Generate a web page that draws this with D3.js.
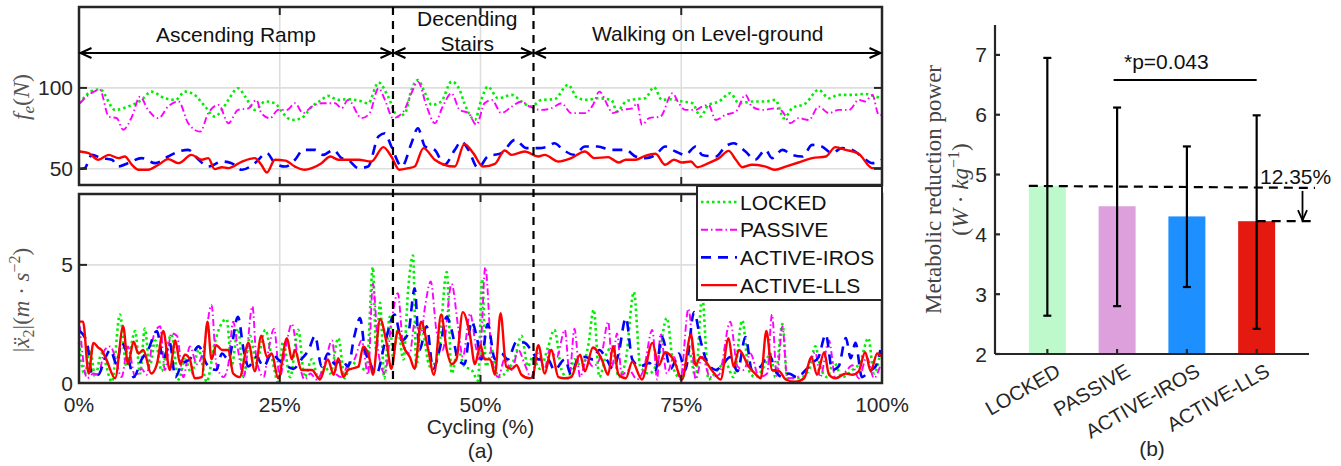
<!DOCTYPE html>
<html>
<head>
<meta charset="utf-8">
<script src="https://cdn.jsdelivr.net/npm/d3@7"></script>
<style>
  body { margin: 0; background: #fff; }
  svg { display: block; font-family: "Liberation Sans", Arial, sans-serif; }
</style>
</head>
<body>
<div id="chart"></div>
<script>
// ---- data (x in % of cycle) ----
var seriesNames = ["LOCKED", "PASSIVE", "ACTIVE-IROS", "ACTIVE-LLS"];
var phaseNames = ["Ascending Ramp", "Decending|Stairs", "Walking on Level-ground"];
var phaseBounds = [0, 39.1, 56.6, 100];
var xTicks = [0, 25, 50, 75, 100];
var forceTicks = [50, 100];
var accTicks = [0, 5];

var lockedForce = [[0,90.5],[2.0,98.8],[2.6,99],[4.5,86.4],[6.1,88.5],[7.8,92.6],[9.0,97.7],[10.7,93.6],[12.0,92.6],[13.2,97.7],[14.4,95.7],[15.7,88.5],[16.9,82.3],[17.8,86.4],[18.6,92.6],[19.8,99.8],[20.7,94.6],[21.9,86.4],[23.2,91.6],[24.4,90.5],[25.4,84.4],[26.5,80.2],[27.7,81.3],[29.0,88.5],[30.2,92.6],[31.0,95.1],[32.3,92.6],[33.5,93],
  [34.8,92.2],[36.0,90.5],[37.3,103.3],[38.5,94.6],[39.7,82.3],[40.6,84.4],[41.4,98.8],[42.2,104.9],[43.1,96.7],[43.9,89.5],[45.1,91.6],[46.4,103.9],[47.4,98.8],[48.0,90.5],[49.3,80.2],[50.1,92.6],[50.9,100.8],[52.2,93.6],[53.9,95.7],[55.1,91.6],[56.3,88.5],[57.6,92.6],[59.2,93],[60.9,101.9],[62.1,93.6],[63.4,92.6],[64.6,93.6],[66.3,92.6],
  [67.0,85.4],[68.1,91.6],[69.3,93],[70.5,93.6],[71.6,100.4],[72.6,92.6],[73.9,93],[75.1,91.6],[76.4,90.5],[77.4,82.3],[78.4,89.5],[79.7,91.6],[81.1,96.7],[82.2,90.5],[83.8,91.6],[85.5,91.6],[86.7,92.6],[87.8,81.3],[88.8,87.4],[90.5,90.5],[92.1,98.8],[93.4,93.6],[94.6,95.7],[96.3,95.7],[97.9,96.3],[99.2,94.6],[100,93.6]];

var passiveForce = [[0.1,90.5],[1.2,95.7],[2.6,98.8],[3.7,82.3],[4.7,81.3],[5.5,74.1],[6.6,82.3],[7.6,94.6],[8.6,86.4],[9.9,81.3],[11.1,88.5],[12.4,91.6],[13.6,78.2],[15.1,73],[16.1,84.4],[17.4,89.5],[18.6,78.2],[19.8,86.4],[21.1,87.4],[22.1,92.6],[22.7,84.4],[23.8,81.3],[24.8,86.4],[25.9,86.4],[26.9,90.5],[27.9,84.4],[29.0,88.5],[30.2,90.5],[31.9,90.5],[32.7,87.4],[33.5,92.6],
  [35.2,81.3],[36.2,84.4],[37.3,99.8],[38.1,92.6],[39.1,81.3],[40.4,85.4],[41.4,96.7],[42.2,103.9],[43.3,88.5],[44.3,78.2],[45.3,88.5],[46.4,96.7],[47.4,86.4],[48.5,84.4],[49.5,77.2],[50.5,90.5],[51.4,92.6],[52.6,84.4],[53.9,88.5],[55.1,91.6],[56.1,88.5],[57.6,86.4],[58.8,87.4],[60.1,90.5],[61.3,84.4],[63.0,84.4],[64.0,89.5],[64.8,97.7],[65.9,88.5],
  [66.4,84.4],[67.6,86.4],[68.9,87.4],[69.5,90.5],[70.1,77.2],[71.0,81.3],[72.4,82.3],[73.9,96.7],[74.7,90.5],[75.5,86.4],[76.8,86.4],[77.6,88.5],[78.4,89.5],[79.3,80.2],[80.5,83.3],[81.8,85.4],[83.0,95.7],[83.8,88.5],[85.1,86.4],[86.7,87.4],[87.6,85.4],[88.6,78.2],[89.6,81.3],[90.9,80.2],[92.1,88.5],[93.4,84.4],[94.6,86.4],[95.9,86.4],[97.1,92.6],[97.9,91.6],[98.8,95.7],[99.6,83.3],[100,83.3]];

var irosForce = [[0.1,50],[0.7,50.4],[1.6,58.6],[2.8,56.6],[4.1,55.6],[4.9,51.4],[6.1,53.5],[7.8,56.6],[9.5,53.5],[11.1,57.6],[12.4,60.7],[13.6,61.7],[14.9,55.6],[16.1,51.4],[17.8,54.5],[19.0,53.5],[20.3,49.4],[21.9,53.5],[23.4,59.7],[24.4,53.5],[25.7,51.4],[26.9,55.6],[27.9,61.7],[29.4,61.7],[30.4,58.6],[31.7,61.7],[32.7,56.6],[33.5,55.6],
  [34.8,50.4],[36.0,51.4],[37.3,70],[38.1,72],[38.9,63.8],[40.2,51.4],[41.4,65.8],[42.2,75.1],[43.1,63.8],[44.3,61.7],[45.5,52.5],[46.8,61.7],[47.6,66.9],[48.5,61.7],[49.7,50.4],[50.9,57.6],[52.6,59.7],[54.3,67.9],[55.7,62.8],[57.2,62.8],[58.4,63.8],[59.2,65.8],[60.3,61.7],[61.7,58.6],[63.0,63.8],[64.6,63.8],[66.3,61.7],
  [68.1,61.7],[69.3,57.6],[70.5,56.6],[71.8,58.6],[73.0,63.8],[74.3,60.7],[75.5,58.6],[76.8,63.8],[77.6,58.6],[79.3,57.6],[80.5,63.8],[81.5,65.8],[83.0,60.7],[84.2,55.6],[85.5,61.7],[86.3,56.6],[87.6,61.7],[88.8,58.6],[90.1,57.6],[91.3,64.8],[92.5,63.8],[93.8,59.7],[95.0,62.8],[96.3,61.7],[97.5,57.6],[98.8,53.5],[100,55.6]];

var llsForce = [[0.1,60.7],[1.2,59.7],[2.4,55.6],[3.7,58.6],[4.9,56.6],[5.7,57.6],[6.6,52.5],[7.4,49.4],[8.6,49.4],[9.9,52.5],[11.1,56],[12.4,53.5],[14.0,58.6],[15.3,55.6],[16.1,56.6],[16.9,49.8],[17.8,51],[18.6,50.4],[20.3,54.5],[21.9,56.6],[22.7,52.5],[23.4,47.7],[24.4,55.6],[25.7,55.1],[26.9,51.4],[28.1,49.4],[29.0,50.4],[30.2,53.5],[31.3,57.6],[32.3,55.6],[33.5,55.6],
  [34.8,55.6],[36.4,54.5],[37.9,63.4],[38.9,57.6],[39.9,49.4],[41.0,50.4],[41.8,51.4],[42.9,62.8],[44.3,55.6],[45.5,52.5],[46.8,51.4],[48.0,65.4],[49.1,59.7],[50.3,51.4],[51.8,53.1],[53.0,61.3],[53.9,58.6],[55.5,60.7],[57.2,57.6],[58.0,58.6],[59.7,54.5],[61.3,56.6],[63.0,60.7],[64.2,56.6],[65.9,57.2],
  [66.4,56],[67.2,53.9],[68.1,55.6],[69.3,55.6],[70.5,58],[71.8,59.3],[73.0,52.5],[74.1,55.6],[75.1,53.9],[76.2,54.5],[77.0,51],[78.4,53.5],[79.7,56.6],[80.9,61.1],[81.8,55.6],[82.6,51],[83.8,52.5],[85.5,51.4],[86.7,49.4],[88.0,51.4],[89.6,53.9],[91.3,56.6],[93.0,57.6],[94.2,63.4],[95.5,61.7],[97.1,59.3],[98.8,50.4],[100,50.4]];

var lockedAcc = [[0,1.7],[0.7,0.35],[1.4,1.4],[2.0,0.25],[2.8,1.25],[4.1,0.05],[5.1,2.9],[5.9,0.7],[7.0,2.2],[7.6,0.4],[8.2,2.3],[8.8,0.7],[9.5,1.8],[10.3,0.5],[10.9,1.4],[11.5,2.05],[12.4,0.15],[13.2,1.0],[14.0,0.4],[14.9,1.4],[15.9,0.05],[16.9,1.7],[17.8,2.55],[18.4,2.7],[19.0,0.7],[19.8,2.3],[20.5,0.25],[21.3,2.0],[22.1,0.85],[23.2,2.25],[24.0,1.1],[24.8,0.05],[25.4,1.75],[26.3,0.25],[27.3,2.25],[28.1,0.25],[29.0,1.0],[29.8,0.2],[30.6,0.7],[31.3,0.4],[32.3,1.9],[33.1,0.2],
  [33.9,0.9],[34.8,0.7],[35.8,0.55],[36.6,4.9],[37.0,1.4],[37.5,3.4],[38.0,0.2],[38.7,2.8],[39.1,1.1],[39.7,2.25],[40.4,1.0],[41.0,4.0],[41.6,5.4],[42.0,0.7],[42.6,2.4],[43.7,0.7],[44.7,1.1],[45.8,4.7],[46.4,0.4],[47.2,1.4],[48.0,0.7],[48.9,0.55],[49.7,0.1],[50.2,4.4],[50.7,0.7],[51.4,1.4],[52.2,0.25],[53.4,0.55],[54.3,1.1],[55.1,2.0],[55.9,0.7],[56.5,1.1],[57.4,0.6],[58.4,1.5],[59.2,2.25],[60.1,0.55],[60.9,0.2],[61.7,1.0],[62.6,0.7],[63.4,1.55],[64.1,3.1],[64.8,0.25],[65.7,1.25],[66.5,1.55],
  [67.2,0.25],[68.1,1.0],[69.1,3.85],[69.9,0.7],[71.0,0.4],[72.2,1.1],[73.2,2.75],[74.1,0.55],[75.1,0.15],[75.9,1.4],[76.8,0.25],[77.6,3.65],[78.4,0.15],[79.5,0.55],[80.5,0.85],[81.5,0.25],[82.6,2.65],[83.4,0.55],[84.2,0.25],[85.3,0.7],[86.1,1.25],[86.7,0.25],[87.6,2.5],[88.2,0.2],[89.6,0.2],[90.9,0.55],[91.7,1.55],[92.3,0.7],[93.2,0.25],[94.0,0.9],[95.0,0.25],[96.3,0.55],[97.3,0.9],[98.3,1.9],[99.0,0.4],[99.8,1.3]];

var passiveAcc = [[0.1,2.4],[1.0,0.2],[1.8,0.4],[2.4,0.35],[3.2,1.4],[3.9,1.55],[4.5,1.1],[5.3,0.25],[6.1,1.55],[7.0,0.25],[7.8,0.6],[8.4,0.35],[9.3,2.0],[10.1,2.4],[10.7,0.55],[11.5,2.1],[12.2,2.0],[13.0,0.25],[13.8,1.55],[14.7,0.8],[15.5,1.4],[16.5,3.3],[17.1,0.8],[18.0,0.25],[18.6,0.8],[19.2,2.6],[19.8,1.4],[20.5,0.25],[21.6,3.25],[22.1,1.0],[23.0,0.25],[23.6,1.4],[24.3,2.3],[25.0,0.25],[25.7,1.4],[26.5,2.5],[27.3,1.0],[28.1,0.15],[28.8,0.4],[29.6,0.15],[30.6,0.8],[31.5,1.8],[32.1,0.35],[32.7,0.25],[33.5,0.8],
  [34.3,1.0],[35.2,1.8],[36.0,0.35],[36.6,4.2],[37.3,1.25],[38.1,0.4],[38.9,2.55],[39.7,3.8],[40.4,1.55],[41.2,1.25],[41.8,2.55],[42.6,2.1],[43.1,3.25],[43.8,4.3],[44.5,2.25],[45.3,1.4],[46.4,4.2],[47.2,2.4],[47.8,1.1],[48.7,2.95],[49.5,1.4],[49.9,1.0],[50.6,4.9],[51.4,1.1],[52.2,0.25],[53.0,1.0],[53.9,0.55],[54.7,1.4],[55.5,0.8],[56.3,0.25],[57.2,1.25],[58.0,0.6],[58.6,1.4],[59.5,1.1],[60.5,2.25],[61.1,0.4],[61.7,2.3],[62.4,0.25],[63.2,1.0],[64.0,0.7],[65.1,1.25],[65.9,2.6],
  [66.4,0.7],[67.0,2.1],[67.6,0.35],[68.5,0.55],[69.5,0.15],[70.3,0.55],[71.4,2.25],[72.0,0.15],[72.4,2.1],[73.2,0.4],[74.1,1.1],[74.9,0.15],[75.9,3.15],[76.8,0.15],[77.6,1.1],[78.6,0.25],[79.7,0.35],[81.1,2.6],[82.0,0.7],[82.8,0.55],[83.6,1.25],[84.7,0.25],[85.7,0.4],[86.3,2.9],[86.9,0.25],[87.6,2.4],[88.2,0.2],[89.4,0.25],[90.5,0.55],[91.7,1.3],[92.3,0.25],[93.4,1.8],[94.2,0.2],[95.5,0.5],[96.3,0.75],[97.1,0.2],[98.1,1.1],[99.0,0.2],[99.8,0.75]];

var irosAcc = [[0.1,2.2],[1.0,1.7],[1.6,0.4],[2.4,0.35],[3.2,1.0],[3.9,1.4],[4.7,0.8],[5.3,1.7],[6.1,1.1],[6.8,0.25],[7.8,1.0],[8.6,1.4],[9.7,2.2],[10.5,1.0],[11.3,1.7],[12.0,0.25],[12.8,0.8],[13.8,1.0],[14.9,1.55],[15.9,0.8],[17.1,0.55],[17.8,1.25],[18.6,1.0],[19.8,2.8],[20.5,1.4],[21.1,0.7],[22.1,1.1],[23.0,0.7],[24.0,1.25],[24.8,1.0],[25.7,0.75],[26.7,0.6],[27.7,1.0],[28.6,1.4],[29.4,2.0],[30.2,0.7],[31.0,1.25],[31.9,0.8],[32.7,1.0],[33.5,0.7],
  [34.3,2.0],[35.0,2.75],[35.6,1.4],[36.2,0.9],[37.0,0.35],[38.1,1.7],[39.3,2.9],[40.2,1.8],[41.0,2.1],[41.8,4.0],[42.4,1.4],[43.3,2.4],[44.1,0.6],[44.9,1.4],[45.8,2.8],[46.4,2.25],[47.2,1.0],[48.0,0.8],[48.9,2.6],[49.5,2.0],[50.1,1.0],[50.9,2.5],[51.8,1.0],[52.6,1.25],[53.4,1.0],[54.5,1.75],[55.5,1.7],[56.3,1.4],[57.2,1.0],[58.4,1.0],[59.2,0.55],[60.5,1.0],[61.3,0.35],[62.1,1.0],[63.0,1.1],[64.0,1.0],[64.8,1.4],[65.7,1.0],[66.5,0.6],
  [67.2,1.25],[68.1,2.75],[68.9,1.0],[69.9,0.7],[71.0,0.85],[71.8,0.55],[72.6,1.95],[73.7,0.6],[74.7,1.25],[75.5,0.55],[76.6,3.0],[77.4,1.8],[78.2,0.9],[79.3,0.55],[80.3,0.85],[81.1,1.1],[82.0,0.5],[83.0,1.95],[83.8,0.55],[84.9,0.7],[85.9,1.25],[86.7,0.55],[87.6,0.25],[88.4,0.4],[89.4,0.25],[90.5,0.55],[91.3,0.85],[92.1,1.1],[93.0,2.05],[93.8,0.55],[94.6,0.7],[95.5,1.9],[96.1,1.05],[96.7,1.7],[97.5,0.25],[98.4,0.5],[99.2,0.7],[99.8,1.4]];

var llsAcc = [[0,2.6],[0.5,2.6],[1.2,0.4],[1.8,1.7],[2.4,1.5],[2.8,1.4],[3.4,1.0],[4.5,0.2],[5.5,2.4],[6.1,0.8],[6.8,1.75],[7.4,1.25],[8.0,1.4],[9.0,0.4],[9.7,0.8],[10.5,2.2],[11.3,0.55],[12.0,1.8],[12.6,0.8],[13.2,1.2],[13.8,1.0],[14.4,0.2],[15.3,0.25],[16.0,2.6],[16.5,1.0],[17.1,1.6],[17.8,1.4],[18.6,1.4],[19.2,0.4],[20.0,0.25],[21.1,1.7],[21.9,0.5],[22.7,2.0],[23.4,1.1],[24.0,1.25],[24.8,0.2],[25.9,1.9],[26.5,1.0],[26.9,1.4],[27.7,0.55],[29.0,0.55],[30.0,0.15],[31.0,1.0],[31.7,0.35],[32.3,1.05],[32.9,0.25],[33.5,0.55],
  [33.9,0.6],[34.8,0.7],[35.4,1.55],[36.2,1.0],[36.6,0.35],[37.5,2.7],[38.3,1.7],[38.9,0.6],[39.7,2.2],[40.6,1.4],[41.2,1.1],[41.8,0.6],[42.6,2.6],[43.5,1.4],[44.2,0.35],[45.1,2.9],[45.8,1.4],[46.4,0.8],[47.0,1.0],[47.8,3.0],[48.7,2.0],[49.3,0.8],[50.0,1.6],[50.5,1.0],[51.2,1.0],[51.8,0.35],[52.5,2.95],[53.2,0.7],[53.9,0.6],[54.5,0.75],[55.1,0.35],[56.1,0.2],[56.5,0.25],[57.2,1.6],[58.0,0.4],[58.8,1.4],[59.7,0.25],[60.5,0.2],[61.3,0.25],[62.4,1.2],[63.0,0.5],[64.0,1.5],[65.1,1.0],[65.9,0.35],[66.5,1.55],
  [67.2,0.35],[68.1,0.2],[68.9,0.9],[70.1,0.15],[71.4,1.7],[72.2,0.75],[73.0,1.3],[74.1,0.95],[75.1,0.15],[76.2,2.05],[76.8,0.75],[77.4,1.1],[78.9,0.5],[79.9,0.15],[80.9,1.9],[81.5,0.7],[82.2,1.4],[83.4,0.7],[84.2,0.4],[84.9,0.2],[85.6,2.2],[86.3,0.55],[87.2,0.5],[88.0,0.15],[89.2,0.05],[90.3,0.2],[91.2,1.1],[91.9,0.35],[92.8,1.3],[93.4,0.35],[94.2,0.2],[95.5,0.4],[96.3,0.35],[97.1,0.5],[97.9,1.3],[98.6,0.5],[99.4,1.25],[100,1.1]];

// bar chart (b)
var barMeans = [4.81, 4.47, 4.30, 4.22];
var barUpper = [6.95, 6.12, 5.47, 5.99];
var barLower = [2.64, 2.80, 3.12, 2.42];
var barTicks = [2, 3, 4, 5, 6, 7];

// ---- styles ----
var lineColors = ["#00ee00", "#ff00ff", "#0000ff", "#ff0000"];
var lineDash = ["2.5,3", "7,3,1.5,3", "10,7", null];
var lineWidth = [2.6, 1.9, 2.6, 2.4];
var barColors = ["#bdf9cb", "#dda0dd", "#1e8fff", "#e4190f"];
var axisColor = "#262626";
var gridColor = "#dedede";

var svg = d3.select("#chart").append("svg")
    .attr("width", 1341)
    .attr("height", 466);

// scales for panel (a)
var x = d3.scaleLinear().domain([0, 100]).range([79, 882]);
var yF = d3.scaleLinear().domain([40, 150]).range([185, 7]);
var yA = d3.scaleLinear().domain([0, 8]).range([383, 194]);

function drawGrid(yScale, yTicks) {
    var g = svg.append("g");
    g.selectAll("line.v").data([25, 50, 75]).enter().append("line")
        .attr("x1", function(d) { return x(d); }).attr("x2", function(d) { return x(d); })
        .attr("y1", yScale.range()[0]).attr("y2", yScale.range()[1])
        .attr("stroke", gridColor).attr("stroke-width", 1.6);
    g.selectAll("line.h").data(yTicks).enter().append("line")
        .attr("x1", x(0)).attr("x2", x(100))
        .attr("y1", function(d) { return yScale(d); }).attr("y2", function(d) { return yScale(d); })
        .attr("stroke", gridColor).attr("stroke-width", 1.6);
}

function drawLines(yScale, sets) {
    var line = d3.line()
        .x(function(d) { return x(d[0]); })
        .y(function(d) { return yScale(d[1]); })
        .curve(d3.curveMonotoneX);
    sets.forEach(function(s, i) {
        svg.append("path")
            .attr("d", line(s))
            .attr("fill", "none")
            .attr("stroke", lineColors[i])
            .attr("stroke-width", lineWidth[i])
            .attr("stroke-dasharray", lineDash[i])
            .attr("stroke-linejoin", "round");
    });
}

function drawFrame(yScale, yTicks, showLabels) {
    var y0 = yScale.range()[0], y1 = yScale.range()[1];
    var g = svg.append("g");
    g.append("rect")
        .attr("x", x(0)).attr("y", y1)
        .attr("width", x(100) - x(0)).attr("height", y0 - y1)
        .attr("fill", "none").attr("stroke", axisColor).attr("stroke-width", 2.5);
    // inward ticks on all four sides
    [25, 50, 75].forEach(function(t) {
        g.append("line").attr("x1", x(t)).attr("x2", x(t)).attr("y1", y0).attr("y2", y0 - 8)
            .attr("stroke", axisColor).attr("stroke-width", 2);
        g.append("line").attr("x1", x(t)).attr("x2", x(t)).attr("y1", y1).attr("y2", y1 + 8)
            .attr("stroke", axisColor).attr("stroke-width", 2);
    });
    yTicks.forEach(function(t) {
        g.append("line").attr("x1", x(0)).attr("x2", x(0) + 8).attr("y1", yScale(t)).attr("y2", yScale(t))
            .attr("stroke", axisColor).attr("stroke-width", 2);
        g.append("line").attr("x1", x(100)).attr("x2", x(100) - 8).attr("y1", yScale(t)).attr("y2", yScale(t))
            .attr("stroke", axisColor).attr("stroke-width", 2);
    });
    g.selectAll("text.yt").data(yTicks).enter().append("text")
        .attr("x", x(0) - 6)
        .attr("y", function(d) { return yScale(d); })
        .attr("dy", "0.36em")
        .attr("text-anchor", "end")
        .attr("font-size", 21)
        .attr("fill", axisColor)
        .text(function(d) { return d; });
    if (showLabels) {
        g.selectAll("text.xt").data(xTicks).enter().append("text")
            .attr("x", function(d) { return x(d); })
            .attr("y", y0 + 29)
            .attr("text-anchor", "middle")
            .attr("font-size", 21)
            .attr("fill", axisColor)
            .text(function(d) { return d + "%"; });
    }
}

// top panel: f_e
drawGrid(yF, forceTicks);
drawLines(yF, [lockedForce, passiveForce, irosForce, llsForce]);
drawFrame(yF, forceTicks, false);

// bottom panel: acceleration
drawGrid(yA, accTicks);
drawLines(yA, [lockedAcc, passiveAcc, irosAcc, llsAcc]);
drawFrame(yA, accTicks, true);

// phase separators (dashed, through both panels)
[phaseBounds[1], phaseBounds[2]].forEach(function(p) {
    svg.append("line")
        .attr("x1", x(p)).attr("x2", x(p))
        .attr("y1", yF.range()[1]).attr("y2", yA.range()[0] - 2)
        .attr("stroke", "#000").attr("stroke-width", 2.2)
        .attr("stroke-dasharray", "8,6");
});

// phase arrows and labels
var arrowY = 53;
for (var i = 0; i < 3; i++) {
    var xa = x(phaseBounds[i]) + 1.5, xe = x(phaseBounds[i + 1]) - 1.5;
    var ag = svg.append("g").attr("stroke", "#000").attr("stroke-width", 2).attr("fill", "none");
    ag.append("line").attr("x1", xa).attr("x2", xe).attr("y1", arrowY).attr("y2", arrowY);
    ag.append("polyline").attr("points", (xa + 11) + "," + (arrowY - 5) + " " + xa + "," + arrowY + " " + (xa + 11) + "," + (arrowY + 5));
    ag.append("polyline").attr("points", (xe - 11) + "," + (arrowY - 5) + " " + xe + "," + arrowY + " " + (xe - 11) + "," + (arrowY + 5));
}
var midA = (x(phaseBounds[0]) + x(phaseBounds[1])) / 2;
var midB = (x(phaseBounds[1]) + x(phaseBounds[2])) / 2 + 4;
var midC = (x(phaseBounds[2]) + x(phaseBounds[3])) / 2;
svg.append("text").attr("x", midA).attr("y", 42).attr("text-anchor", "middle")
    .attr("font-size", 21).attr("fill", "#111").text(phaseNames[0]);
var twoLine = phaseNames[1].split("|");
svg.append("text").attr("x", midB).attr("y", 26).attr("text-anchor", "middle")
    .attr("font-size", 21).attr("fill", "#111").text(twoLine[0]);
svg.append("text").attr("x", midB).attr("y", 51).attr("text-anchor", "middle")
    .attr("font-size", 21).attr("fill", "#111").text(twoLine[1]);
svg.append("text").attr("x", midC).attr("y", 41).attr("text-anchor", "middle")
    .attr("font-size", 21).attr("fill", "#111").text(phaseNames[2]);

// legend
var lg = svg.append("g");
lg.append("rect").attr("x", 697).attr("y", 186).attr("width", 185).attr("height", 114)
    .attr("fill", "#fff").attr("stroke", axisColor).attr("stroke-width", 2);
seriesNames.forEach(function(name, i) {
    var ly = 202 + i * 27.7;
    lg.append("line").attr("x1", 701).attr("x2", 737).attr("y1", ly).attr("y2", ly)
        .attr("stroke", lineColors[i]).attr("stroke-width", lineWidth[i])
        .attr("stroke-dasharray", lineDash[i]);
    lg.append("text").attr("x", 740).attr("y", ly).attr("dy", "0.36em")
        .attr("font-size", 21).attr("fill", "#111").text(name);
});

// axis titles for (a)
var serif = "'Liberation Serif', 'DejaVu Serif', serif";
var t1 = svg.append("text")
    .attr("transform", "translate(29," + 97 + ") rotate(-90)")
    .attr("text-anchor", "middle").attr("font-family", serif)
    .attr("font-size", 24).attr("fill", "#555");
t1.append("tspan").attr("font-style", "italic").text("f");
t1.append("tspan").attr("font-style", "italic").attr("font-size", 17).attr("dy", 5).text("e");
t1.append("tspan").attr("dy", -5).text("(");
t1.append("tspan").attr("font-style", "italic").text("N");
t1.append("tspan").text(")");

var t2 = svg.append("text")
    .attr("transform", "translate(29," + 300 + ") rotate(-90)")
    .attr("text-anchor", "middle").attr("font-family", serif)
    .attr("font-size", 23).attr("fill", "#555");
t2.append("tspan").text("|");
t2.append("tspan").attr("font-style", "italic").text("\u1E8D");
t2.append("tspan").attr("font-size", 16).attr("dy", 5).text("2");
t2.append("tspan").attr("dy", -5).text("|(");
t2.append("tspan").attr("font-style", "italic").text("m");
t2.append("tspan").text(" \u00B7 ");
t2.append("tspan").attr("font-style", "italic").text("s");
t2.append("tspan").attr("font-size", 16).attr("dy", -9).text("\u22122");
t2.append("tspan").attr("dy", 9).text(")");

svg.append("text").attr("x", x(50)).attr("y", 434).attr("text-anchor", "middle")
    .attr("font-size", 21).attr("fill", axisColor).text("Cycling (%)");
svg.append("text").attr("x", x(50)).attr("y", 458).attr("text-anchor", "middle")
    .attr("font-size", 21).attr("fill", axisColor).text("(a)");

// ---- panel (b): bars with error bars ----
var xb = d3.scaleLinear().domain([0.25, 4.75]).range([995, 1309]);
var yb = d3.scaleLinear().domain([2, 7.5]).range([354, 25]);
var bw = xb(1.53) - xb(1);

svg.selectAll("rect.bar").data(barMeans).enter().append("rect")
    .attr("x", function(d, i) { return xb(i + 1) - bw / 2; })
    .attr("y", function(d) { return yb(d); })
    .attr("width", bw)
    .attr("height", function(d) { return yb(2) - yb(d); })
    .attr("fill", function(d, i) { return barColors[i]; });

// error bars
barMeans.forEach(function(m, i) {
    var cx = xb(i + 1);
    var eg = svg.append("g").attr("stroke", "#000").attr("stroke-width", 2.2);
    eg.append("line").attr("x1", cx).attr("x2", cx).attr("y1", yb(barUpper[i])).attr("y2", yb(barLower[i]));
    eg.append("line").attr("x1", cx - 4).attr("x2", cx + 4).attr("y1", yb(barUpper[i])).attr("y2", yb(barUpper[i]));
    eg.append("line").attr("x1", cx - 4).attr("x2", cx + 4).attr("y1", yb(barLower[i])).attr("y2", yb(barLower[i]));
});

// axes of (b)
var bg = svg.append("g").attr("stroke", axisColor).attr("stroke-width", 2.2);
bg.append("line").attr("x1", xb(0.25)).attr("x2", xb(0.25)).attr("y1", yb(7.5)).attr("y2", yb(2));
bg.append("line").attr("x1", xb(0.25)).attr("x2", xb(4.75)).attr("y1", yb(2)).attr("y2", yb(2));
barTicks.forEach(function(t) {
    bg.append("line").attr("x1", xb(0.25)).attr("x2", xb(0.25) + 5).attr("y1", yb(t)).attr("y2", yb(t));
});
barMeans.forEach(function(m, i) {
    bg.append("line").attr("x1", xb(i + 1)).attr("x2", xb(i + 1)).attr("y1", yb(2)).attr("y2", yb(2) - 5);
});
svg.selectAll("text.bt").data(barTicks).enter().append("text")
    .attr("x", xb(0.25) - 8)
    .attr("y", function(d) { return yb(d); })
    .attr("dy", "0.36em")
    .attr("text-anchor", "end")
    .attr("font-size", 21)
    .attr("fill", axisColor)
    .text(function(d) { return d; });
svg.selectAll("text.bl").data(seriesNames).enter().append("text")
    .attr("transform", function(d, i) { return "translate(" + (xb(i + 1) + 7) + ",362) rotate(-30)"; })
    .attr("dy", "0.75em")
    .attr("text-anchor", "end")
    .attr("font-size", 20)
    .attr("fill", axisColor)
    .text(function(d) { return d; });

// y title of (b)
svg.append("text")
    .attr("transform", "translate(941," + yb(4.75) + ") rotate(-90)")
    .attr("text-anchor", "middle").attr("font-family", serif)
    .attr("font-size", 23).attr("fill", "#444")
    .text("Metabolic reduction power");
var t3 = svg.append("text")
    .attr("transform", "translate(968," + yb(4.75) + ") rotate(-90)")
    .attr("text-anchor", "middle").attr("font-family", serif)
    .attr("font-size", 23).attr("fill", "#444");
t3.append("tspan").text("(");
t3.append("tspan").attr("font-style", "italic").text("W");
t3.append("tspan").text(" \u00B7 ");
t3.append("tspan").attr("font-style", "italic").text("kg");
t3.append("tspan").attr("font-size", 16).attr("dy", -9).text("\u22121");
t3.append("tspan").attr("dy", 9).text(")");

// significance bracket
svg.append("line").attr("x1", xb(1.95)).attr("x2", xb(4.0)).attr("y1", 80).attr("y2", 80)
    .attr("stroke", "#000").attr("stroke-width", 2.2);
svg.append("text").attr("x", 1124).attr("y", 69).attr("font-size", 21).attr("fill", "#111")
    .text("*p=0.043");

// reduction annotation
svg.append("line").attr("x1", xb(1) - bw / 2).attr("x2", 1315)
    .attr("y1", yb(barMeans[0])).attr("y2", yb(barMeans[0]) + 2)
    .attr("stroke", "#000").attr("stroke-width", 2.2).attr("stroke-dasharray", "9,6");
svg.append("line").attr("x1", xb(4)).attr("x2", 1315)
    .attr("y1", yb(barMeans[3])).attr("y2", yb(barMeans[3]))
    .attr("stroke", "#000").attr("stroke-width", 2.2).attr("stroke-dasharray", "9,6");
svg.append("line").attr("x1", 1302.5).attr("x2", 1302.5)
    .attr("y1", yb(barMeans[0]) + 5).attr("y2", yb(barMeans[3]) - 1)
    .attr("stroke", "#000").attr("stroke-width", 1.8);
svg.append("polyline")
    .attr("points", "1298," + (yb(barMeans[3]) - 11) + " 1302.5," + (yb(barMeans[3]) - 1) + " 1307," + (yb(barMeans[3]) - 11))
    .attr("fill", "none").attr("stroke", "#000").attr("stroke-width", 1.8);
svg.append("text").attr("x", 1260).attr("y", 184).attr("font-size", 21).attr("fill", "#111")
    .text("12.35%");

svg.append("text").attr("x", 1152).attr("y", 456).attr("text-anchor", "middle")
    .attr("font-size", 21).attr("fill", axisColor).text("(b)");
</script>
</body>
</html>
